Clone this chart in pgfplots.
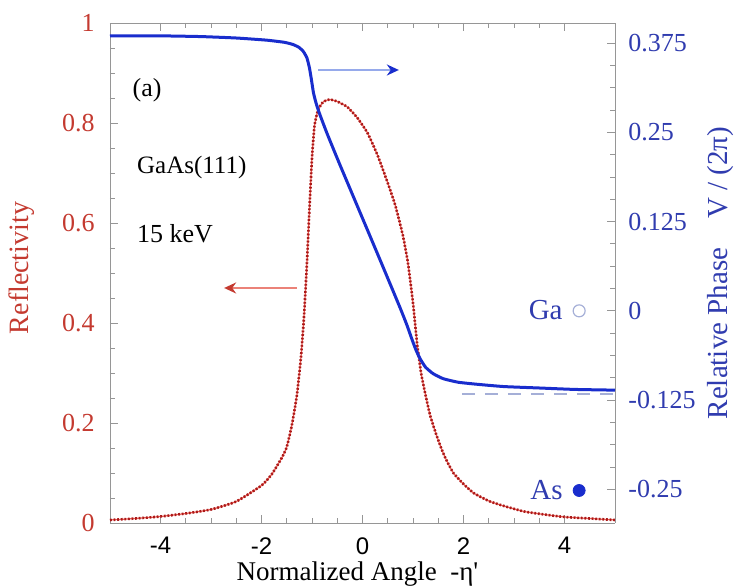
\documentclass[border=0pt]{standalone}
\usepackage{fontspec}
\setmainfont{Liberation Serif}
\setsansfont{Liberation Sans}
\usepackage{pgfplots}
\usepackage{pgfplotstable}
\pgfplotsset{compat=1.18}
\usetikzlibrary{arrows.meta}
\definecolor{redlab}{RGB}{196,58,48}
\definecolor{bluelab}{RGB}{48,60,175}
\definecolor{bluecurve}{RGB}{25,45,205}
\definecolor{redcurve}{RGB}{170,25,25}
\definecolor{redlight}{RGB}{235,90,80}
\definecolor{framegray}{RGB}{150,150,150}
\definecolor{arrowblue}{RGB}{150,170,235}
\definecolor{arrowred}{RGB}{235,130,120}
\definecolor{dashblue}{RGB}{165,175,215}

\pgfplotstableread{
x R
-5.00 0.006
-4.50 0.009
-4.00 0.013
-3.50 0.019
-3.00 0.027
-2.50 0.043
-2.00 0.075
-1.80 0.097
-1.60 0.130
-1.50 0.152
-1.40 0.195
-1.30 0.255
-1.22 0.330
-1.16 0.410
-1.10 0.520
-1.05 0.630
-1.00 0.730
-0.95 0.795
-0.88 0.826
-0.78 0.842
-0.65 0.847
-0.50 0.843
-0.30 0.832
-0.10 0.810
0.10 0.780
0.30 0.735
0.50 0.680
0.65 0.635
0.80 0.575
0.90 0.520
1.00 0.440
1.08 0.360
1.16 0.300
1.25 0.255
1.34 0.215
1.45 0.180
1.55 0.152
1.65 0.128
1.80 0.100
2.00 0.078
2.20 0.060
2.50 0.044
2.80 0.034
3.20 0.023
3.60 0.017
4.00 0.012
4.50 0.009
5.00 0.006
}\refldata

\pgfplotstableread{
x P
-5.00 0.385
-4.00 0.385
-3.20 0.384
-2.50 0.382
-1.90 0.379
-1.55 0.376
-1.38 0.373
-1.26 0.369
-1.17 0.363
-1.10 0.354
-1.05 0.340
-1.01 0.323
-0.97 0.305
-0.92 0.291
-0.85 0.276
-0.70 0.248
-0.45 0.205
-0.05 0.138
0.35 0.071
0.74 0.005
0.88 -0.020
0.98 -0.040
1.06 -0.055
1.14 -0.067
1.25 -0.079
1.40 -0.088
1.60 -0.095
1.90 -0.100
2.30 -0.103
2.80 -0.106
3.50 -0.108
4.20 -0.110
5.00 -0.111
}\phasedata

\begin{document}
\begin{tikzpicture}[x=1pt,y=1pt]
\useasboundingbox (-55,-32.5) rectangle (312.5,261.5);
\begin{axis}[
  at={(0,0)}, anchor=south west, scale only axis,
  width=252.5pt, height=250pt,
  xmin=-5, xmax=5, ymin=0, ymax=1,
  axis y line*=left,
  axis line style={framegray},
  tick align=inside,
  major tick length=4pt, minor tick length=2.5pt,
  every tick/.style={framegray, line width=0.4pt},
  xtick={-4,-2,0,2,4}, xticklabels={-4,-2,0,2,4},
  minor x tick num=3,
  ytick={0,0.2,0.4,0.6,0.8,1}, yticklabels={0,0.2,0.4,0.6,0.8,1},
  minor y tick num=3,
  xticklabel style={font=\sffamily\fontsize{12}{14}\selectfont, inner sep=0pt, anchor=north, yshift=-7pt},
  yticklabel style={font=\fontsize{13}{15}\selectfont, text=redlab, inner sep=0pt, anchor=east, xshift=-7.5pt},
  xlabel={Normalized Angle\ \ -η\textquotesingle},
  xlabel style={font=\fontsize{13.5}{16}\selectfont, at={(axis description cs:0.49,-0.102)}, anchor=center},
  ylabel={Reflectivity},
  ylabel style={font=\fontsize{14}{16}\selectfont, text=redlab, at={(axis description cs:-0.174,0.51)}, anchor=center},
  clip=false,
]
\addplot[redlight, line width=0.6pt, smooth, tension=0.3] table[x=x,y=R] {\refldata};
\addplot[redcurve, line width=1.3pt, dash pattern=on 0.9pt off 0.9pt, smooth, tension=0.3] table[x=x,y=R] {\refldata};
\draw[arrowblue, line width=1.1pt, -{Stealth[length=6pt,width=5.5pt,color=bluecurve]}] (axis cs:-0.88,0.906) -- (axis cs:0.72,0.906);
\draw[arrowred, line width=1.1pt, -{Stealth[length=6pt,width=5.5pt,color=redlab]}] (axis cs:-1.30,0.47) -- (axis cs:-2.74,0.47);
\node[anchor=west, inner sep=0pt, font=\fontsize{13}{15}\selectfont] at (axis cs:-4.56,0.866) {(a)};
\node[anchor=west, inner sep=0pt, font=\fontsize{12.5}{15}\selectfont] at (axis cs:-4.47,0.712) {GaAs(111)};
\node[anchor=west, inner sep=0pt, font=\fontsize{13}{15}\selectfont] at (axis cs:-4.47,0.578) {15 keV};
\node[anchor=east, inner sep=0pt, font=\fontsize{14.5}{16}\selectfont, text=bluelab] at (axis cs:3.97,0.426) {Ga};
\node[anchor=east, inner sep=0pt, font=\fontsize{14.5}{16}\selectfont, text=bluelab] at (axis cs:3.97,0.066) {As};
\end{axis}
\begin{axis}[
  at={(0,0)}, anchor=south west, scale only axis,
  width=252.5pt, height=250pt,
  xmin=-5, xmax=5, ymin=-0.297, ymax=0.403,
  axis y line*=right, axis x line=none,
  axis line style={framegray},
  tick align=inside,
  major tick length=4pt, minor tick length=2.5pt,
  every tick/.style={framegray, line width=0.4pt},
  ytick={-0.25,-0.125,0,0.125,0.25,0.375},
  yticklabels={-0.25,-0.125,0,0.125,0.25,0.375},
  minor y tick num=3,
  yticklabel style={font=\fontsize{13}{15}\selectfont, text=bluelab, inner sep=0pt, anchor=west, xshift=6.5pt},
  ylabel={Relative Phase\quad V / (2π)},
  ylabel style={font=\fontsize{14.5}{17}\selectfont, text=bluelab, at={(axis description cs:1.208,0.50)}, anchor=center},
  clip=false,
]
\addplot[dashblue, line width=1pt, dash pattern=on 6.5pt off 5pt] coordinates {(1.97,-0.116) (5,-0.116)};
\addplot[bluecurve, line width=1.5pt, smooth, tension=0.3] table[x=x,y=P] {\phasedata};
\addplot[only marks, mark=o, mark size=3pt, mark options={draw=dashblue, line width=0.6pt}] coordinates {(4.29,0.0)};
\addplot[only marks, mark=*, mark size=3pt, mark options={draw=bluecurve, fill=bluecurve}] coordinates {(4.29,-0.2515)};
\end{axis}
\end{tikzpicture}
\end{document}
